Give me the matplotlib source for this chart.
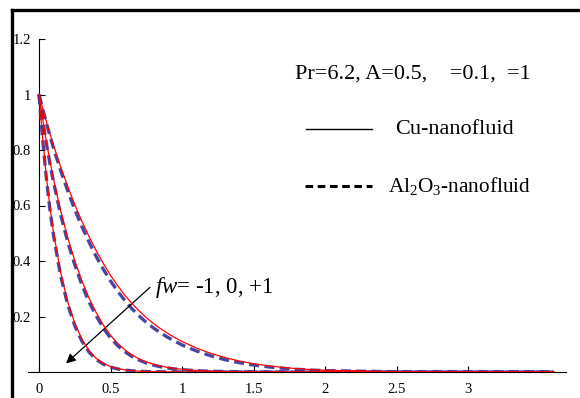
import matplotlib
matplotlib.use('Agg')
import matplotlib.pyplot as plt
from matplotlib.lines import Line2D

plt.rcParams['font.family'] = ['Liberation Serif', 'DejaVu Serif']
plt.rcParams['mathtext.fontset'] = 'custom'
plt.rcParams['mathtext.rm'] = 'Liberation Serif'
plt.rcParams['mathtext.it'] = 'Liberation Serif:italic'

# eta values
eta = [0, 0.025, 0.05, 0.075, 0.1, 0.15, 0.2, 0.25, 0.3, 0.35, 0.4, 0.45, 0.5,
       0.55, 0.6, 0.65, 0.7, 0.75, 0.8, 0.85, 0.9, 0.95, 1.0,
       1.1, 1.2, 1.3, 1.4, 1.5, 1.6, 1.7, 1.8, 1.9, 2.0, 2.5, 3.0, 3.6]

# Cu-nanofluid, fw = -1, 0, +1
cu_m1 = [1, 0.951, 0.905, 0.861, 0.819, 0.741, 0.670, 0.603, 0.543, 0.488, 0.437, 0.391, 0.348,
         0.311, 0.277, 0.247, 0.220, 0.196, 0.175, 0.156, 0.139, 0.124, 0.110,
         0.0866, 0.0675, 0.052, 0.0397, 0.030, 0.0225, 0.0167, 0.0122, 0.0089, 0.0064, 0.001, 0, 0]
cu_0 = [1, 0.914, 0.835, 0.763, 0.698, 0.583, 0.485, 0.401, 0.328, 0.266, 0.214, 0.169, 0.132,
        0.103, 0.080, 0.0615, 0.0474, 0.0364, 0.0279, 0.0214, 0.0164, 0.0126, 0.0097,
        0.0057, 0.0034, 0.002, 0.0012, 0.0007, 0, 0, 0, 0, 0, 0, 0, 0]
cu_p1 = [1, 0.844, 0.712, 0.600, 0.507, 0.361, 0.254, 0.176, 0.118, 0.0767, 0.0489, 0.0309, 0.0195,
         0.0123, 0.0078, 0.0049, 0.0031, 0.002, 0.0012, 0.0008, 0.0005, 0.0003, 0,
         0, 0, 0, 0, 0, 0, 0, 0, 0, 0, 0, 0, 0]

# Al2O3-nanofluid, fw = -1, 0, +1
al_m1 = [1, 0.949, 0.900, 0.854, 0.809, 0.728, 0.654, 0.585, 0.524, 0.468, 0.416, 0.370, 0.328,
         0.291, 0.258, 0.228, 0.202, 0.179, 0.159, 0.141, 0.125, 0.111, 0.0976,
         0.0759, 0.0585, 0.0445, 0.0335, 0.025, 0.0186, 0.0136, 0.0098, 0.0071, 0.005, 0.0007, 0, 0]
al_0 = [1, 0.911, 0.829, 0.755, 0.688, 0.570, 0.470, 0.386, 0.314, 0.252, 0.202, 0.158, 0.1225,
        0.0949, 0.0731, 0.0558, 0.0427, 0.0325, 0.0247, 0.0188, 0.0143, 0.0109, 0.0084,
        0.0048, 0.0028, 0.0016, 0.001, 0.0005, 0, 0, 0, 0, 0, 0, 0, 0]
al_p1 = [1, 0.840, 0.705, 0.591, 0.497, 0.350, 0.244, 0.167, 0.111, 0.0715, 0.045, 0.0282, 0.0176,
         0.011, 0.0069, 0.0043, 0.0027, 0.0017, 0.001, 0.0007, 0.0004, 0.0002, 0,
         0, 0, 0, 0, 0, 0, 0, 0, 0, 0, 0, 0, 0]

xticks = [0, 0.5, 1, 1.5, 2, 2.5, 3]
xlabels = ['0', '0.5', '1', '1.5', '2', '2.5', '3']
yticks = [0.2, 0.4, 0.6, 0.8, 1.0, 1.2]
ylabels = ['0.2', '0.4', '0.6', '0.8', '1', '1.2']

fig = plt.figure(figsize=(5.8, 3.98), dpi=100)
ax = fig.add_axes([28/580, 26/398, 538/580, 333/398])

for yb in [al_m1, al_0, al_p1]:
    ax.plot(eta, yb, color='#333399', lw=2.4, ls=(0, (3, 1.6)), alpha=0.9, zorder=3)
for yr in [cu_m1, cu_0, cu_p1]:
    ax.plot(eta, yr, color='red', lw=0.9, zorder=4)

ax.set_xlim(-0.077, 3.685)
ax.set_ylim(0, 1.2)
ax.spines['top'].set_visible(False)
ax.spines['right'].set_visible(False)
ax.spines['left'].set_position(('data', 0))
ax.spines['left'].set_bounds(0, 1.2)
ax.spines['left'].set_linewidth(0.8)
ax.spines['bottom'].set_linewidth(0.8)
ax.set_xticks(xticks)
ax.set_xticklabels(xlabels)
ax.set_yticks(yticks)
ax.set_yticklabels(ylabels)
ax.tick_params(axis='both', direction='in', length=4, width=0.8, labelsize=10.5)
ax.tick_params(axis='y', pad=6)
ax.tick_params(axis='x', pad=8)

# annotations
ax.text(1.79, 1.075, 'Pr=6.2, A=0.5,    =0.1,  =1', fontsize=16, va='center')
ax.plot([1.87, 2.33], [0.875, 0.875], color='black', lw=1)
ax.text(2.49, 0.875, 'Cu-nanofluid', fontsize=16, va='center')
ax.plot([1.86, 2.33], [0.672, 0.672], color='black', lw=2.2, ls=(0, (2.5, 1.5)))
ax.text(2.44, 0.672, r'Al$_2$O$_3$-nanofluid', fontsize=15.3, va='center')

ax.annotate('', xy=(0.189, 0.031), xytext=(0.776, 0.305),
            arrowprops=dict(arrowstyle='-|>', color='black', lw=0.9,
                            mutation_scale=14, shrinkA=0, shrinkB=0))
ax.text(0.81, 0.303, r'$\it{fw}$= -1, 0, +1', fontsize=16.5, va='center')

# thick border on top and left of the picture
fig.add_artist(Line2D([11.8/580, 1], [1 - 9.5/398, 1 - 9.5/398], color='black', lw=2.4))
fig.add_artist(Line2D([11.8/580, 11.8/580], [0, 1 - 9.5/398], color='black', lw=2.4))

fig.savefig('out.png', dpi=100)
